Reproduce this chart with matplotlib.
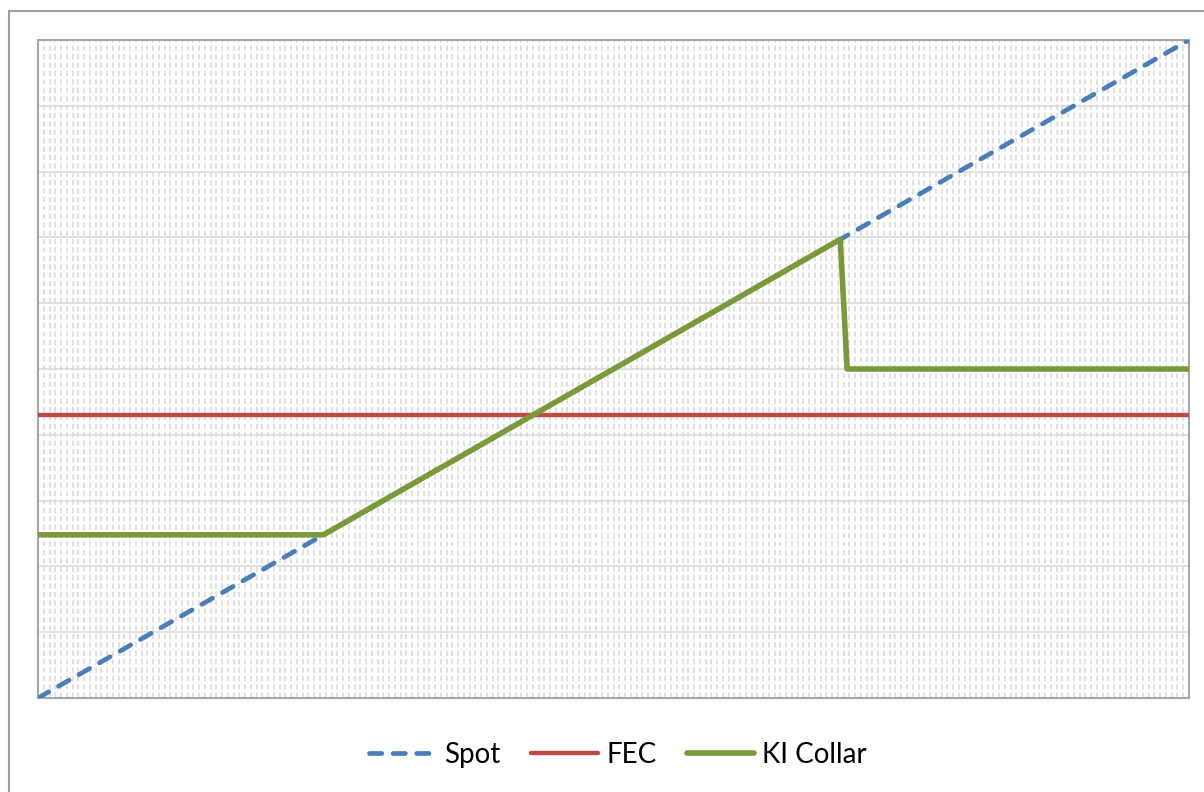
import numpy as np
import matplotlib
matplotlib.use('Agg')
import matplotlib.pyplot as plt
from matplotlib.ticker import MultipleLocator
from matplotlib.patches import Rectangle

# spot level on the x axis, payoff on the y axis (no labels in the original)
spot_x = [0.0, 10.0]
spot_y = [0.0, 10.0]

fec_x = [0.0, 10.0]
fec_y = [4.3, 4.3]

collar_x = [0.0, 2.48, 6.97, 7.03, 10.0]
collar_y = [2.48, 2.48, 6.97, 5.0, 5.0]

labels = ["Spot", "FEC", "KI Collar"]

plt.rcParams['font.family'] = ['Lato', 'DejaVu Sans']

fig = plt.figure(figsize=(12.04, 7.92), dpi=100)
ax = fig.add_axes([38 / 1204, 1 - 698 / 792, 1151 / 1204, 658 / 792])

# outer chart frame (cropped on the right and bottom)
fig.patches.append(Rectangle((9 / 1204, -0.1), 1.2, 1 - 11 / 792 + 0.1,
                             transform=fig.transFigure, fill=False,
                             edgecolor='#a0a0a0', linewidth=1.5, clip_on=False))

ax.plot(spot_x, spot_y, color='#4a7ebb', linewidth=3.4,
        dashes=(2.6, 2.4), dash_capstyle='round', label=labels[0], zorder=3)
ax.plot(fec_x, fec_y, color='#be4b48', linewidth=3.2,
        solid_capstyle='round', label=labels[1], zorder=3)
ax.plot(collar_x, collar_y, color='#7a9a3a', linewidth=4.0,
        solid_capstyle='round', solid_joinstyle='round', label=labels[2], zorder=4)

ax.set_xlim(0, 10)
ax.set_ylim(0, 10)
ax.xaxis.set_major_locator(MultipleLocator(0.05))
ax.yaxis.set_major_locator(MultipleLocator(1))
ax.tick_params(length=0, labelbottom=False, labelleft=False)
ax.grid(axis='x', color='#d9d9d9', linewidth=1.1, linestyle=(0, (3.5, 2)))
ax.grid(axis='y', color='#d9d9d9', linewidth=1.1)
ax.set_axisbelow(True)
for s in ax.spines.values():
    s.set_color('#a6a6a6')
    s.set_linewidth(1.5)

fig.legend(loc='center', bbox_to_anchor=(618 / 1204, 1 - 755 / 792), ncol=3,
           frameon=False, fontsize=20, handlelength=2.4, handletextpad=0.3,
           columnspacing=1.1)

fig.savefig('out.png', dpi=100)
